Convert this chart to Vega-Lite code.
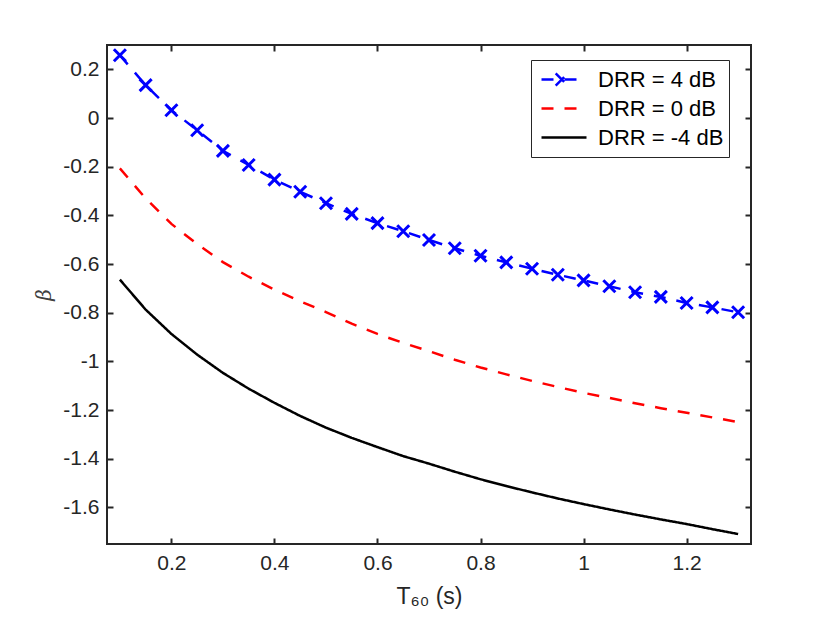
{
  "$schema": "https://vega.github.io/schema/vega-lite/v6.json",
  "width": 644,
  "height": 499,
  "autosize": {"type": "none"},
  "padding": {"left": 107, "top": 45, "right": 79, "bottom": 79},
  "data": {
    "values": [
      {"series": "DRR = 4 dB", "t": 0.1, "beta": 0.258},
      {"series": "DRR = 4 dB", "t": 0.15, "beta": 0.135},
      {"series": "DRR = 4 dB", "t": 0.2, "beta": 0.032},
      {"series": "DRR = 4 dB", "t": 0.25, "beta": -0.05},
      {"series": "DRR = 4 dB", "t": 0.3, "beta": -0.135},
      {"series": "DRR = 4 dB", "t": 0.35, "beta": -0.193},
      {"series": "DRR = 4 dB", "t": 0.4, "beta": -0.253},
      {"series": "DRR = 4 dB", "t": 0.45, "beta": -0.303},
      {"series": "DRR = 4 dB", "t": 0.5, "beta": -0.35},
      {"series": "DRR = 4 dB", "t": 0.55, "beta": -0.394},
      {"series": "DRR = 4 dB", "t": 0.6, "beta": -0.432},
      {"series": "DRR = 4 dB", "t": 0.65, "beta": -0.465},
      {"series": "DRR = 4 dB", "t": 0.7, "beta": -0.501},
      {"series": "DRR = 4 dB", "t": 0.75, "beta": -0.535},
      {"series": "DRR = 4 dB", "t": 0.8, "beta": -0.566},
      {"series": "DRR = 4 dB", "t": 0.85, "beta": -0.593},
      {"series": "DRR = 4 dB", "t": 0.9, "beta": -0.619},
      {"series": "DRR = 4 dB", "t": 0.95, "beta": -0.644},
      {"series": "DRR = 4 dB", "t": 1.0, "beta": -0.667},
      {"series": "DRR = 4 dB", "t": 1.05, "beta": -0.691},
      {"series": "DRR = 4 dB", "t": 1.1, "beta": -0.716},
      {"series": "DRR = 4 dB", "t": 1.15, "beta": -0.735},
      {"series": "DRR = 4 dB", "t": 1.2, "beta": -0.76},
      {"series": "DRR = 4 dB", "t": 1.25, "beta": -0.778},
      {"series": "DRR = 4 dB", "t": 1.3, "beta": -0.798},
      {"series": "DRR = 0 dB", "t": 0.1, "beta": -0.207},
      {"series": "DRR = 0 dB", "t": 0.15, "beta": -0.33},
      {"series": "DRR = 0 dB", "t": 0.2, "beta": -0.435},
      {"series": "DRR = 0 dB", "t": 0.25, "beta": -0.518},
      {"series": "DRR = 0 dB", "t": 0.3, "beta": -0.592},
      {"series": "DRR = 0 dB", "t": 0.35, "beta": -0.652},
      {"series": "DRR = 0 dB", "t": 0.4, "beta": -0.705},
      {"series": "DRR = 0 dB", "t": 0.45, "beta": -0.753},
      {"series": "DRR = 0 dB", "t": 0.5, "beta": -0.797},
      {"series": "DRR = 0 dB", "t": 0.55, "beta": -0.845},
      {"series": "DRR = 0 dB", "t": 0.6, "beta": -0.887},
      {"series": "DRR = 0 dB", "t": 0.65, "beta": -0.924},
      {"series": "DRR = 0 dB", "t": 0.7, "beta": -0.958},
      {"series": "DRR = 0 dB", "t": 0.75, "beta": -0.993},
      {"series": "DRR = 0 dB", "t": 0.8, "beta": -1.025},
      {"series": "DRR = 0 dB", "t": 0.85, "beta": -1.053},
      {"series": "DRR = 0 dB", "t": 0.9, "beta": -1.08},
      {"series": "DRR = 0 dB", "t": 0.95, "beta": -1.105},
      {"series": "DRR = 0 dB", "t": 1.0, "beta": -1.129},
      {"series": "DRR = 0 dB", "t": 1.05, "beta": -1.15},
      {"series": "DRR = 0 dB", "t": 1.1, "beta": -1.172},
      {"series": "DRR = 0 dB", "t": 1.15, "beta": -1.192},
      {"series": "DRR = 0 dB", "t": 1.2, "beta": -1.211},
      {"series": "DRR = 0 dB", "t": 1.25, "beta": -1.23},
      {"series": "DRR = 0 dB", "t": 1.3, "beta": -1.249},
      {"series": "DRR = -4 dB", "t": 0.1, "beta": -0.664},
      {"series": "DRR = -4 dB", "t": 0.15, "beta": -0.787},
      {"series": "DRR = -4 dB", "t": 0.2, "beta": -0.887},
      {"series": "DRR = -4 dB", "t": 0.25, "beta": -0.972},
      {"series": "DRR = -4 dB", "t": 0.3, "beta": -1.047},
      {"series": "DRR = -4 dB", "t": 0.35, "beta": -1.112},
      {"series": "DRR = -4 dB", "t": 0.4, "beta": -1.17},
      {"series": "DRR = -4 dB", "t": 0.45, "beta": -1.224},
      {"series": "DRR = -4 dB", "t": 0.5, "beta": -1.272},
      {"series": "DRR = -4 dB", "t": 0.55, "beta": -1.314},
      {"series": "DRR = -4 dB", "t": 0.6, "beta": -1.352},
      {"series": "DRR = -4 dB", "t": 0.65, "beta": -1.389},
      {"series": "DRR = -4 dB", "t": 0.7, "beta": -1.42},
      {"series": "DRR = -4 dB", "t": 0.75, "beta": -1.453},
      {"series": "DRR = -4 dB", "t": 0.8, "beta": -1.484},
      {"series": "DRR = -4 dB", "t": 0.85, "beta": -1.512},
      {"series": "DRR = -4 dB", "t": 0.9, "beta": -1.538},
      {"series": "DRR = -4 dB", "t": 0.95, "beta": -1.563},
      {"series": "DRR = -4 dB", "t": 1.0, "beta": -1.586},
      {"series": "DRR = -4 dB", "t": 1.05, "beta": -1.608},
      {"series": "DRR = -4 dB", "t": 1.1, "beta": -1.629},
      {"series": "DRR = -4 dB", "t": 1.15, "beta": -1.649},
      {"series": "DRR = -4 dB", "t": 1.2, "beta": -1.668},
      {"series": "DRR = -4 dB", "t": 1.25, "beta": -1.689},
      {"series": "DRR = -4 dB", "t": 1.3, "beta": -1.709}
    ]
  },
  "layer": [
    {
      "mark": {"type": "line", "strokeWidth": 2.5, "clip": true},
      "encoding": {
        "x": {
          "field": "t",
          "type": "quantitative",
          "scale": {"domain": [0.075, 1.325], "nice": false, "zero": false},
          "axis": {
            "orient": "bottom",
            "values": [0.2, 0.4, 0.6, 0.8, 1, 1.2],
            "labelExpr": "toString(datum.value)",
            "title": "T₆₀ (s)",
            "titleFontSize": 23,
            "titlePadding": 12
          }
        },
        "y": {
          "field": "beta",
          "type": "quantitative",
          "scale": {"domain": [-1.75, 0.3], "nice": false, "zero": false},
          "axis": {
            "orient": "left",
            "values": [-1.6, -1.4, -1.2, -1, -0.8, -0.6, -0.4, -0.2, 0, 0.2],
            "labelExpr": "toString(datum.value)",
            "title": "β",
            "titleFont": "DejaVu Serif",
            "titleFontStyle": "italic",
            "titleColor": "#404040",
            "titleFontSize": 20,
            "titlePadding": 8
          }
        },
        "color": {
          "field": "series",
          "type": "nominal",
          "sort": null,
          "scale": {
            "domain": ["DRR = 4 dB", "DRR = 0 dB", "DRR = -4 dB"],
            "range": ["#0000ff", "#ff0000", "#000000"]
          },
          "legend": {
            "orient": "none",
            "legendX": 424,
            "legendY": 15,
            "title": null,
            "symbolType": "stroke",
            "symbolSize": 2025,
            "symbolStrokeWidth": 2.5,
            "symbolOffset": 4,
            "clipHeight": 29,
            "labelFont": "Liberation Sans",
            "labelFontSize": 22,
            "labelColor": "#000000",
            "labelOffset": 10,
            "labelExpr": "datum.label + '  '",
            "strokeColor": "#262626",
            "fillColor": "#ffffff",
            "padding": 5,
            "rowPadding": 0,
            "encode": {
              "symbols": {
                "update": {
                  "shape": {"signal": "datum.value === 'DRR = 4 dB' ? 'M-1,0L0.62,0M-0.37,-0.27L0.17,0.27M-0.37,0.27L0.17,-0.27' : 'stroke'"},
                  "strokeDash": {"signal": "datum.value === 'DRR = 0 dB' ? [14, 10] : [1, 0]"}
                }
              }
            }
          }
        },
        "strokeDash": {
          "field": "series",
          "type": "nominal",
          "scale": {
            "domain": ["DRR = 4 dB", "DRR = 0 dB", "DRR = -4 dB"],
            "range": [[12, 11], [12, 11], [1, 0]]
          },
          "legend": null
        }
      }
    },
    {
      "transform": [{"filter": "datum.series === 'DRR = 4 dB'"}],
      "mark": {
        "type": "point",
        "shape": "M-1,-1L1,1M-1,1L1,-1",
        "size": 144,
        "filled": false,
        "strokeWidth": 3,
        "color": "#0000ff",
        "opacity": 1
      },
      "encoding": {
        "x": {
          "field": "t",
          "type": "quantitative",
          "axis": {"orient": "top", "values": [0.2, 0.4, 0.6, 0.8, 1, 1.2], "labels": false, "title": null}
        },
        "y": {
          "field": "beta",
          "type": "quantitative",
          "axis": {"orient": "right", "values": [-1.6, -1.4, -1.2, -1, -0.8, -0.6, -0.4, -0.2, 0, 0.2], "labels": false, "title": null}
        }
      }
    }
  ],
  "resolve": {"axis": {"x": "independent", "y": "independent"}},
  "config": {
    "view": {"stroke": "#262626", "strokeWidth": 2},
    "axis": {
      "domain": false,
      "grid": false,
      "ticks": true,
      "tickSize": -6,
      "tickWidth": 2,
      "tickColor": "#262626",
      "labelFont": "Liberation Sans",
      "labelFontSize": 21,
      "labelColor": "#262626",
      "labelPadding": 14,
      "titleFont": "Liberation Sans",
      "titleFontSize": 22,
      "titleFontWeight": "normal",
      "titleColor": "#262626"
    }
  }
}
